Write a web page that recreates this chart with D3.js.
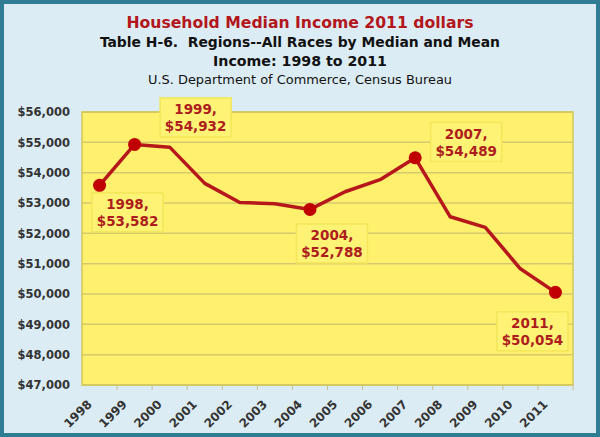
<!DOCTYPE html>
<html>
<head>
<meta charset="utf-8">
<script src="https://cdn.jsdelivr.net/npm/d3@7"></script>
<style>
  html, body { margin: 0; padding: 0; background: #fff; }
  svg { display: block; }
</style>
</head>
<body>
<div id="chart"></div>
<script>
// data (2011 dollars)
const years = [1998, 1999, 2000, 2001, 2002, 2003, 2004, 2005, 2006, 2007, 2008, 2009, 2010, 2011];
const income = [53582, 54932, 54841, 53646, 53019, 52973, 52788, 53371, 53768, 54489, 52546, 52195, 50831, 50054];
const markedYears = [1998, 1999, 2004, 2007, 2011];
const yTicks = [47000, 48000, 49000, 50000, 51000, 52000, 53000, 54000, 55000, 56000];
const titleLines = [
  "Household Median Income 2011 dollars",
  "Table H-6.  Regions--All Races by Median and Mean",
  "Income: 1998 to 2011",
  "U.S. Department of Commerce, Census Bureau"
];

const width = 600;
const height = 437;
const margin = { top: 112, right: 27, bottom: 52, left: 82 };

const svg = d3
  .select("#chart")
  .append("svg")
  .attr("width", width)
  .attr("height", height)
  .attr("viewBox", [0, 0, width, height]);

// background + teal frame
svg.append("rect")
  .attr("x", 2).attr("y", 2)
  .attr("width", width - 4).attr("height", height - 4)
  .attr("fill", "#dcecf4")
  .attr("stroke", "#2f7d92")
  .attr("stroke-width", 4);

// titles
const titleStyle = [
  { y: 28, size: 16, weight: "bold", fill: "#b3161b", family: "DejaVu Sans Condensed", len: 347 },
  { y: 47, size: 14, weight: "bold", fill: "#111", family: "DejaVu Sans Condensed", len: 400 },
  { y: 66, size: 14, weight: "bold", fill: "#111", family: "DejaVu Sans Condensed", len: 174 },
  { y: 84, size: 12.5, weight: "normal", fill: "#111", family: "DejaVu Sans Condensed", len: 304 }
];
svg.append("g")
  .selectAll("text")
  .data(titleLines)
  .join("text")
  .attr("x", width / 2)
  .attr("y", (d, i) => titleStyle[i].y)
  .attr("text-anchor", "middle")
  .attr("font-family", (d, i) => titleStyle[i].family)
  .attr("font-size", (d, i) => titleStyle[i].size)
  .attr("font-weight", (d, i) => titleStyle[i].weight)
  .attr("fill", (d, i) => titleStyle[i].fill)
  .attr("textLength", (d, i) => titleStyle[i].len)
  .attr("lengthAdjust", "spacingAndGlyphs")
  .style("white-space", "pre")
  .text((d) => d);

const x = d3
  .scaleBand()
  .domain(years)
  .range([margin.left, width - margin.right]);

const y = d3
  .scaleLinear()
  .domain([47000, 56000])
  .range([height - margin.bottom, margin.top]);

// plot area
svg.append("rect")
  .attr("x", margin.left)
  .attr("y", margin.top)
  .attr("width", width - margin.left - margin.right)
  .attr("height", height - margin.top - margin.bottom)
  .attr("fill", "#fff06e");

// gridlines
svg.append("g")
  .attr("stroke", "#d6c86c")
  .attr("stroke-width", 1.5)
  .selectAll("line")
  .data(yTicks)
  .join("line")
  .attr("x1", margin.left)
  .attr("x2", width - margin.right)
  .attr("y1", (d) => y(d))
  .attr("y2", (d) => y(d));

svg.append("rect")
  .attr("x", margin.left)
  .attr("y", margin.top)
  .attr("width", width - margin.left - margin.right)
  .attr("height", height - margin.top - margin.bottom)
  .attr("fill", "none")
  .attr("stroke", "#d2c85a")
  .attr("stroke-width", 1.5);

// y axis
const yAxis = svg.append("g")
  .attr("transform", `translate(${margin.left},0)`)
  .call(d3.axisLeft(y).tickValues(yTicks).tickSize(0).tickPadding(12)
    .tickFormat((d) => "$" + d3.format(",")(d)));
yAxis.select(".domain").remove();
yAxis.selectAll("text")
  .attr("font-family", "DejaVu Sans")
  .attr("font-size", 11.5)
  .attr("font-weight", "bold")
  .attr("fill", "#333");

// x axis
const xAxis = svg.append("g")
  .attr("transform", `translate(0,${height - margin.bottom})`)
  .call(d3.axisBottom(x).tickSize(0).tickPadding(0));
xAxis.select(".domain").remove();
xAxis.selectAll(".tick line").remove();
xAxis.selectAll("text")
  .attr("font-family", "DejaVu Sans")
  .attr("font-size", 12)
  .attr("font-weight", "bold")
  .attr("fill", "#333")
  .attr("text-anchor", "end")
  .attr("dy", null)
  .attr("transform", "translate(-7,20) rotate(-45)");

// tick marks at band edges
svg.append("g")
  .attr("stroke", "#c9c08a")
  .attr("stroke-width", 1)
  .selectAll("line")
  .data(years)
  .join("line")
  .attr("x1", (d) => x(d) + x.bandwidth())
  .attr("x2", (d) => x(d) + x.bandwidth())
  .attr("y1", height - margin.bottom)
  .attr("y2", height - margin.bottom + 5);

const cx = (d) => x(d) + x.bandwidth() / 2;

// line
const pts = years.map((d, i) => [cx(d), y(income[i])]);
svg.append("path")
  .attr("d", d3.line()(pts))
  .attr("fill", "none")
  .attr("stroke", "#b5171b")
  .attr("stroke-width", 3.5)
  .attr("stroke-linejoin", "round");

// markers
svg.append("g")
  .attr("fill", "#c00000")
  .selectAll("circle")
  .data(markedYears)
  .join("circle")
  .attr("cx", (d) => cx(d))
  .attr("cy", (d) => y(income[years.indexOf(d)]))
  .attr("r", 6.5);

// data labels (box offsets from the point)
const labelOffset = {
  1998: [28, 27],
  1999: [61, -27],
  2004: [22, 34],
  2007: [51, -16],
  2011: [-23, 39]
};
const bw = 71, bh = 39;
const labels = svg.append("g")
  .selectAll("g")
  .data(markedYears)
  .join("g")
  .attr("transform", (d) => {
    const [dx, dy] = labelOffset[d];
    return `translate(${cx(d) + dx},${y(income[years.indexOf(d)]) + dy})`;
  });

labels.append("rect")
  .attr("x", -bw / 2)
  .attr("y", -bh / 2)
  .attr("width", bw)
  .attr("height", bh)
  .attr("fill", "#fff376")
  .attr("stroke", "#f3e65a")
  .attr("stroke-width", 1.5);

labels.append("text")
  .attr("text-anchor", "middle")
  .attr("font-family", "DejaVu Sans")
  .attr("font-size", 13.5)
  .attr("font-weight", "bold")
  .attr("fill", "#ad1d1d")
  .selectAll("tspan")
  .data((d) => [d + ",", "$" + d3.format(",")(income[years.indexOf(d)])])
  .join("tspan")
  .attr("x", 0)
  .attr("y", (d, i) => (i === 0 ? -3 : 14))
  .text((d) => d);
</script>
</body>
</html>
